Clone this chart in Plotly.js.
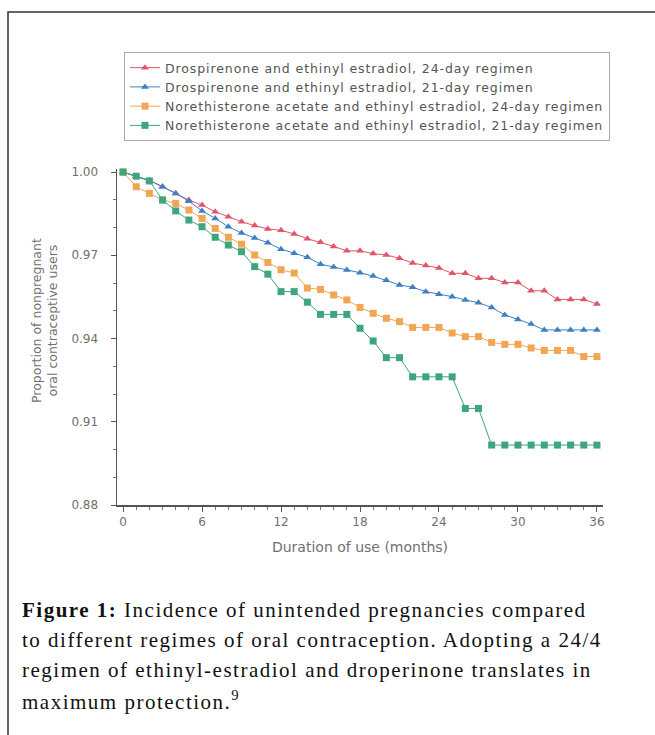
<!DOCTYPE html>
<html>
<head>
<meta charset="utf-8">
<script src="https://cdn.plot.ly/plotly-3.0.1.min.js"></script>
<style>
html,body{margin:0;padding:0;background:#fff;}
#chart{width:655px;height:735px;}
.legendtext{letter-spacing:0.9px;}
.caption-line .annotation-text{letter-spacing:1.5px;}
</style>
</head>
<body>
<div id="chart"></div>
<script>
// ---- data ----
const months = [0,1,2,3,4,5,6,7,8,9,10,11,12,13,14,15,16,17,18,19,20,21,22,23,24,25,26,27,28,29,30,31,32,33,34,35,36];
const seriesNames = [
  "Drospirenone and ethinyl estradiol, 24-day regimen",
  "Drospirenone and ethinyl estradiol, 21-day regimen",
  "Norethisterone acetate and ethinyl estradiol, 24-day regimen",
  "Norethisterone acetate and ethinyl estradiol, 21-day regimen"
];
const drsp24 = [1.0,0.9985,0.997,0.9947,0.9923,0.9899,0.9881,0.9857,0.9839,0.9821,0.9807,0.9795,0.9790,0.9777,0.9760,0.9747,0.9732,0.9716,0.9716,0.9706,0.9701,0.9689,0.9672,0.9663,0.9654,0.9635,0.9635,0.9617,0.9617,0.9602,0.9602,0.9572,0.9572,0.9541,0.9541,0.9541,0.9524];
const drsp21 = [1.0,0.9985,0.997,0.9947,0.9923,0.9895,0.9860,0.9833,0.9803,0.9780,0.9762,0.9745,0.9722,0.9707,0.9693,0.9668,0.9658,0.9647,0.9637,0.9625,0.9610,0.9593,0.9585,0.9569,0.9560,0.9551,0.9539,0.9529,0.9512,0.9485,0.9469,0.9452,0.9431,0.9431,0.9431,0.9431,0.9431];
const neta24 = [1.0,0.9947,0.9923,0.9900,0.9887,0.9863,0.9833,0.9797,0.9765,0.9740,0.9701,0.9674,0.9648,0.9636,0.9582,0.9577,0.9557,0.9539,0.9512,0.9491,0.9473,0.9461,0.9440,0.9440,0.9440,0.9420,0.9407,0.9407,0.9386,0.9379,0.9379,0.9366,0.9357,0.9357,0.9357,0.9335,0.9335];
const neta21 = [1.0,0.9985,0.9968,0.9899,0.9860,0.9827,0.9803,0.9765,0.9737,0.9713,0.9659,0.9632,0.9569,0.9569,0.9531,0.9487,0.9487,0.9487,0.9437,0.9391,0.9331,0.9331,0.9262,0.9262,0.9262,0.9262,0.9148,0.9148,0.9016,0.9016,0.9016,0.9016,0.9016,0.9016,0.9016,0.9016,0.9016];
const yTickVals = [0.88,0.91,0.94,0.97,1.00];
const yTickText = ["0.88","0.91","0.94","0.97","1.00"];
const xTickVals = [0,6,12,18,24,30,36];
const xTickText = ["0","6","12","18","24","30","36"];
const xTitle = "Duration of use (months)";
const yTitle = "Proportion of nonpregnant<br>oral contraceptive users";
const captionLines = [
  "<b>Figure 1:</b> Incidence of unintended pregnancies compared",
  "to different regimes of oral contraception. Adopting a 24/4",
  "regimen of ethinyl-estradiol and droperinone translates in",
  "maximum protection.<sup>9</sup>"
];

// ---- styles ----
const colors = ["#e0566a","#3f80c4","#f2a653","#3fa581"];
const symbols = ["triangle-up","triangle-up","square","square"];
const W = 655, H = 735;
const M = {l:117, r:52, t:169, b:230};
const PW = W - M.l - M.r, PH = H - M.t - M.b;
const px = v => (v - M.l) / PW;
const py = v => 1 - (v - M.t) / PH;

const allY = [drsp24, drsp21, neta24, neta21];
const traces = allY.map((ys, i) => ({
  type: "scatter",
  mode: "lines+markers",
  x: months,
  y: ys,
  name: seriesNames[i],
  line: {color: colors[i], width: 1},
  marker: {symbol: symbols[i], size: 7, color: colors[i]},
  cliponaxis: false
}));

const axisFont = {family: "DejaVu Sans, sans-serif", size: 12, color: "#707070"};

const annotations = captionLines.map((t, i) => ({
  xref: "paper", yref: "paper",
  x: px(20), y: py(610 + i * 30),
  xanchor: "left", yanchor: "middle",
  text: t, showarrow: false, align: "left",
  font: {family: "Liberation Serif, serif", size: 21, color: "#111"}
}));
annotations.push({
  xref: "paper", yref: "paper",
  x: px(44), y: py(321),
  xanchor: "center", yanchor: "middle",
  text: yTitle, showarrow: false, textangle: -90,
  font: {family: "DejaVu Sans, sans-serif", size: 12.5, color: "#707070"}
});

const shapes = [{
  type: "path", xref: "paper", yref: "paper",
  path: `M ${px(8)} ${py(740)} L ${px(8)} ${py(12)} L ${px(660)} ${py(12)}`,
  line: {color: "#333", width: 1.5}
}];

const layout = {
  width: W, height: H,
  margin: M,
  paper_bgcolor: "#fff", plot_bgcolor: "#fff",
  showlegend: true,
  legend: {
    x: px(124), y: py(52), xanchor: "left", yanchor: "top",
    bordercolor: "#aaa", borderwidth: 1, bgcolor: "#fff",
    font: {family: "DejaVu Sans, sans-serif", size: 12.5, color: "#555"},
    tracegroupgap: 0, itemwidth: 30
  },
  xaxis: {
    range: [-0.46, 36.46], tickvals: xTickVals, ticktext: xTickText,
    showgrid: false, zeroline: false, showline: true, linecolor: "#555", linewidth: 1.5,
    ticks: "outside", ticklen: 5, tickcolor: "#555", tickfont: axisFont,
    minor: {dtick: 1, tick0: 0, ticks: "outside", ticklen: 3, tickcolor: "#777", showgrid: false},
    title: {text: xTitle, font: {family: "DejaVu Sans, sans-serif", size: 14, color: "#707070"}, standoff: 14},
    fixedrange: true
  },
  yaxis: {
    range: [0.88, 1.0011], tickvals: yTickVals, ticktext: yTickText,
    showgrid: false, zeroline: false, showline: true, linecolor: "#555", linewidth: 1.5,
    ticks: "outside", ticklen: 5, tickcolor: "#555", tickfont: axisFont, ticklabelstandoff: 10,
    minor: {dtick: 0.01, tick0: 0.88, ticks: "outside", ticklen: 3, tickcolor: "#777", showgrid: false},
    fixedrange: true
  },
  annotations: annotations,
  shapes: shapes
};

Plotly.newPlot("chart", traces, layout, {displayModeBar: false, staticPlot: true}).then(gd => {
  // letter-spacing on caption lines to mimic the wide typeface of the reference
  const anns = gd.querySelectorAll(".annotation");
  anns.forEach((a, i) => { if (i < captionLines.length) a.classList.add("caption-line"); });
});
</script>
</body>
</html>
